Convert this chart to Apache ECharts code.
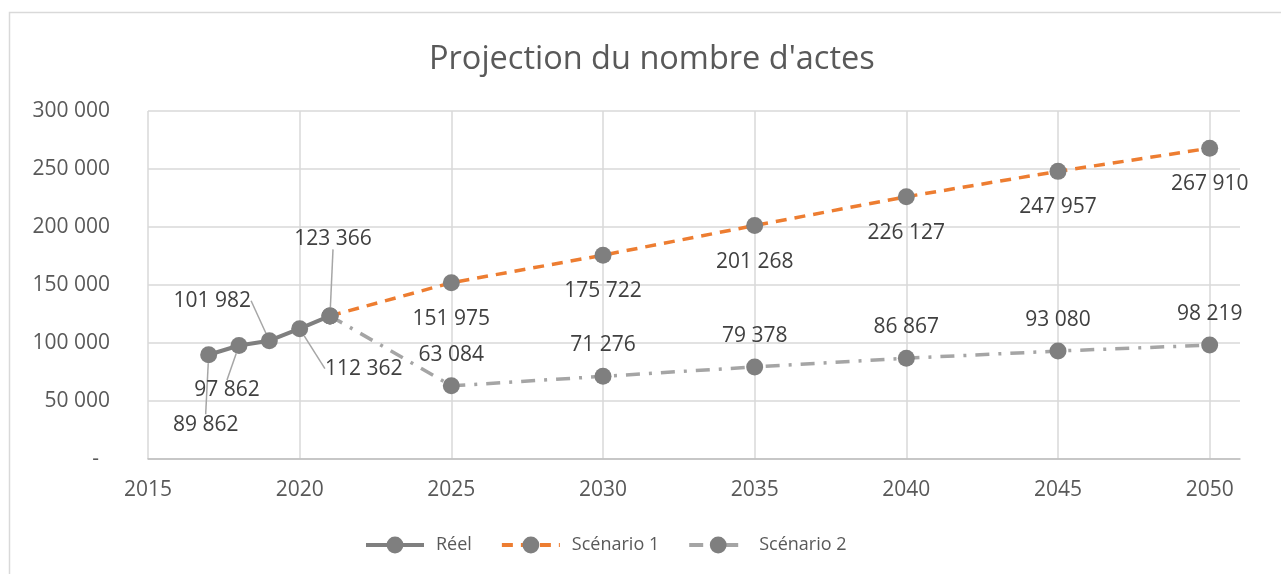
<!DOCTYPE html>
<html>
<head>
<meta charset="utf-8">
<script src="https://cdn.jsdelivr.net/npm/echarts@6/dist/echarts.min.js"></script>
<style>
html,body{margin:0;padding:0;background:#fff;}
#chart{width:1281px;height:574px;}
</style>
</head>
<body>
<div id="chart"></div>
<script>
// ---- data ----
const reelYears = [2017, 2018, 2019, 2020, 2021];
const reelValues = [89862, 97862, 101982, 112362, 123366];
const scen1Years = [2021, 2025, 2030, 2035, 2040, 2045, 2050];
const scen1Values = [123366, 151975, 175722, 201268, 226127, 247957, 267910];
const scen2Years = [2021, 2025, 2030, 2035, 2040, 2045, 2050];
const scen2Values = [123366, 63084, 71276, 79378, 86867, 93080, 98219];
const seriesNames = ['Réel', 'Scénario 1', 'Scénario 2'];
const xTicks = [2015, 2020, 2025, 2030, 2035, 2040, 2045, 2050];

const FONT = 'Open Sans';
function fmt(v) {
  return String(Math.round(v)).replace(/\B(?=(\d{3})+(?!\d))/g, ' ');
}
function pairs(xs, ys) { return xs.map((x, i) => [x, ys[i]]); }

// label offsets for the "Réel" labels (relative to marker centre)
const reelLabelShift = [[-3, 70], [-12, 45], [-57, -40], [64, 40], [3, -77]];

const chart = echarts.init(document.getElementById('chart'));
const markerColor = '#7f7f7f';
const labelStyle = { color: '#404040', fontSize: 21, fontFamily: FONT };

chart.setOption({
  animation: false,
  backgroundColor: '#fff',
  title: {
    text: "Projection du nombre d'actes",
    left: 424,
    top: 38,
    textStyle: { color: '#595959', fontSize: 32.5, fontWeight: 'normal', fontFamily: FONT }
  },
  graphic: [{
    type: 'rect', z: -10,
    shape: { x: 9.5, y: 12.5, width: 1400, height: 700 },
    style: { fill: 'none', stroke: '#d9d9d9', lineWidth: 1.5 }
  }],
  legend: {
    data: seriesNames,
    bottom: 15,
    left: 359,
    itemWidth: 58,
    itemHeight: 21,
    itemGap: 28,
    lineStyle: { width: 4 },
    textStyle: { color: '#595959', fontSize: 18, fontFamily: FONT, padding: [0, 0, 0, 7] }
  },
  grid: { left: 148, right: 41, top: 111, bottom: 115 },
  xAxis: {
    type: 'value',
    min: 2015, max: 2051, interval: 5,
    axisLine: { show: true, lineStyle: { color: '#bfbfbf', width: 1.5 } },
    axisTick: { show: false },
    splitLine: { show: true, showMaxLine: false, lineStyle: { color: '#d9d9d9', width: 1.5 } },
    axisLabel: {
      showMaxLabel: false,
      margin: 21,
      color: '#595959', fontSize: 21, fontFamily: FONT,
      formatter: v => (xTicks.indexOf(v) >= 0 ? String(v) : '')
    }
  },
  yAxis: {
    type: 'value',
    min: 0, max: 300000, interval: 50000,
    axisLine: { show: false },
    axisTick: { show: false },
    splitLine: { show: true, lineStyle: { color: '#d9d9d9', width: 1.5 } },
    axisLabel: {
      margin: 38,
      color: '#595959', fontSize: 21, fontFamily: FONT,
      formatter: v => (v === 0 ? '-  ' : fmt(v))
    }
  },
  series: [
    {
      name: seriesNames[1],
      type: 'line',
      z: 2,
      data: pairs(scen1Years, scen1Values),
      symbol: 'circle', symbolSize: 17,
      itemStyle: { color: markerColor },
      lineStyle: { color: '#ed7d31', width: 3.5, type: [11, 8] },
      label: {
        show: true, position: 'bottom', distance: 17, ...labelStyle,
        formatter: p => (p.dataIndex === 0 ? '' : fmt(p.value[1]))
      }
    },
    {
      name: seriesNames[2],
      type: 'line',
      z: 2,
      data: pairs(scen2Years, scen2Values),
      symbol: 'circle', symbolSize: 17,
      itemStyle: { color: markerColor },
      lineStyle: { color: '#a5a5a5', width: 3.5, type: [14, 9, 3, 9] },
      label: {
        show: true, position: 'top', distance: 12, ...labelStyle,
        formatter: p => (p.dataIndex === 0 ? '' : fmt(p.value[1]))
      }
    },
    {
      name: seriesNames[0],
      type: 'line',
      z: 3,
      data: pairs(reelYears, reelValues),
      symbol: 'circle', symbolSize: 17,
      itemStyle: { color: markerColor },
      lineStyle: { color: '#7f7f7f', width: 4 },
      label: {
        show: true, position: 'inside', ...labelStyle, textBorderWidth: 0,
        formatter: p => fmt(p.value[1])
      },
      labelLine: { show: true, lineStyle: { color: '#a6a6a6', width: 1.5 } },
      labelLayout: p => ({ dx: reelLabelShift[p.dataIndex][0], dy: reelLabelShift[p.dataIndex][1] })
    }
  ]
});
</script>
</body>
</html>
